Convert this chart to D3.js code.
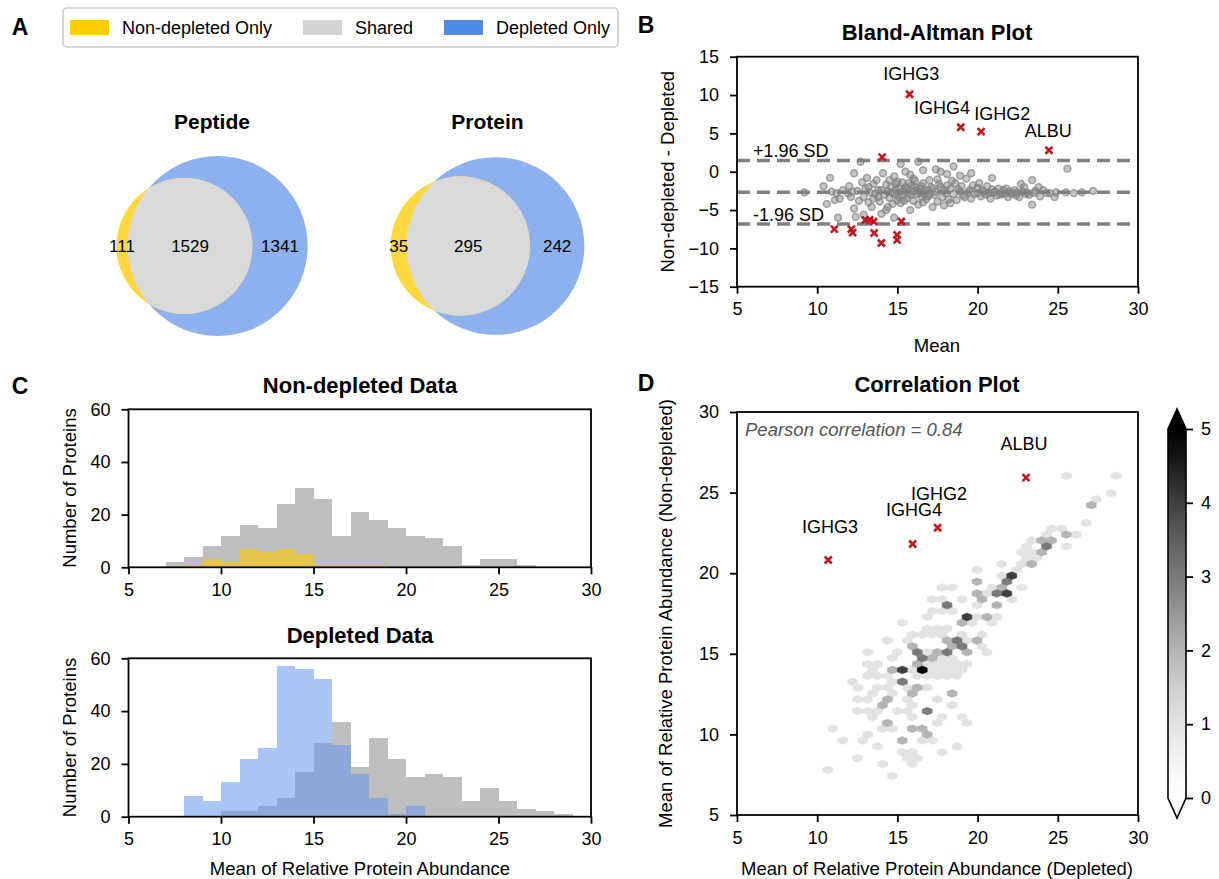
<!DOCTYPE html>
<html><head><meta charset="utf-8">
<script src="https://cdn.jsdelivr.net/npm/d3@7"></script>
<style>body{margin:0;background:#fff}</style>
</head><body><svg id="fig" width="1219" height="879"></svg>
<script>
// ================= DATA =================
const vennCategories = ["Non-depleted Only", "Shared", "Depleted Only"];
const vennTitles = ["Peptide", "Protein"];
const peptideCounts = [111, 1529, 1341];
const proteinCounts = [35, 295, 242];

// Bland-Altman
const baTicksX = [5, 10, 15, 20, 25, 30];
const baTicksY = [-15, -10, -5, 0, 5, 10, 15];
const baMeanDiff = -2.69;
const baSD = 2.11;
const baGray = [
[9.2,-2.7],[10.4,-1.9],[10.8,-0.8],[10.6,-4.2],[11.1,-3.7],[11.3,-6.0],[10.9,-2.6],[11.4,-3.5],[11.2,-2.8],[11.6,-2.4],
[11.9,-2.8],[12.0,-1.9],[12.1,-3.3],[12.3,-0.2],[12.3,-4.8],[12.4,-5.9],[12.5,-2.5],[12.6,-3.8],[12.7,1.3],[12.8,-1.4],
[12.9,-3.3],[12.9,-5.6],[13.0,-2.2],[13.1,-0.8],[13.2,-2.0],[13.3,-2.7],[13.4,-4.6],[13.5,-3.5],[13.5,-1.6],[13.6,-2.9],
[13.7,-1.1],[13.8,-2.4],[13.9,-3.9],[14.0,-5.5],[14.0,-2.4],[14.1,-0.2],[14.2,-3.0],[14.3,-5.0],[14.3,-1.7],[14.4,-2.6],
[14.5,-1.1],[14.5,-3.4],[14.6,-2.0],[14.7,-4.2],[14.8,-0.6],[14.8,-2.9],[14.8,-6.0],[14.9,-1.6],[15.0,-2.8],[15.0,-3.7],
[15.1,-2.2],[15.2,1.0],[15.2,-4.1],[15.3,-1.4],[15.3,-3.1],[15.4,-2.5],[15.5,0.0],[15.5,-2.0],[15.6,-2.2],[15.6,-3.5],
[15.7,-2.8],[15.8,-0.4],[15.8,-3.0],[15.8,-5.0],[15.9,-1.8],[16.0,-2.6],[16.0,-3.8],[16.1,-2.0],[16.1,-1.2],[16.2,-2.9],
[16.3,1.3],[16.3,-4.3],[16.4,-2.8],[16.4,-2.2],[16.5,-3.3],[16.6,0.2],[16.6,-1.5],[16.7,-2.5],[16.8,-3.6],[16.9,-2.4],
[17.0,-1.1],[17.0,-3.0],[17.1,-2.0],[17.2,-4.6],[17.3,-3.0],[17.4,0.3],[17.4,-2.6],[17.5,-3.9],[17.6,-1.6],[17.7,-2.0],
[17.7,0.0],[17.8,-3.3],[17.9,-2.4],[18.0,-2.8],[18.1,-0.3],[18.1,-1.8],[18.2,-3.6],[18.3,-2.2],[18.3,-4.1],[18.4,-1.2],
[18.5,0.7],[18.5,-2.9],[18.6,-1.5],[18.7,-3.7],[18.8,-2.3],[18.9,-2.6],[19.0,-1.9],[19.1,-3.1],[19.2,-3.3],[19.3,-0.9],
[19.4,-2.7],[19.5,-2.4],[19.6,-0.2],[19.6,-3.5],[19.7,-1.8],[19.8,-2.9],[20.0,-2.8],[20.0,-2.1],[20.1,-1.5],[20.2,-3.2],
[20.3,-2.4],[20.4,-2.6],[20.5,-3.0],[20.6,-1.9],[20.7,-2.8],[20.8,-3.5],[20.9,-0.8],[20.9,-2.3],[21.0,-2.7],[21.1,-2.6],
[21.2,-3.1],[21.3,-2.2],[21.4,-3.0],[21.5,-2.8],[21.6,-2.4],[21.7,-2.9],[21.8,-2.2],[21.9,-3.3],[22.0,-2.6],[22.1,-2.9],
[22.2,-2.8],[22.3,-2.4],[22.4,-3.1],[22.5,-2.7],[22.6,-3.3],[22.7,-1.6],[22.8,-2.6],[22.9,-2.0],[23.0,-2.9],[23.1,-2.7],
[23.2,-3.0],[23.4,-1.1],[23.4,-4.3],[23.5,-2.8],[23.6,-2.5],[23.8,-2.0],[23.9,-3.2],[24.1,-2.4],[24.3,-2.8],[24.5,-2.8],
[24.8,-3.3],[24.9,-2.7],[25.5,-2.7],[25.6,0.4],[26.0,-2.8],[26.5,-2.7],[27.2,-2.5],
[14.6,-2.7],[15.1,-3.3],[15.7,-1.5],[16.2,-2.4],[16.5,-1.9],[16.9,-3.2],[17.2,-2.2],[15.4,-3.8],[14.9,-2.3],[16.7,-2.9],
[13.8,-3.3],[12.2,-2.6],[15.0,-1.3],[16.0,-0.9],[17.5,-1.0],[18.9,-0.5],[13.2,-4.0],[14.4,-4.6],[16.6,-4.0],[17.9,-4.4]
];
const baRed = [
[15.76,10.1],[18.95,5.8],[20.22,5.22],[24.45,2.8],[14.05,1.9],
[11.07,-7.5],[12.13,-7.5],[12.21,-7.95],[13.0,-6.3],[13.27,-6.3],[13.52,-6.5],[13.55,-8.0],
[14.0,-9.3],[14.98,-8.25],[14.98,-8.9],[15.25,-6.5]
];
const baLabels = [["IGHG3",15.87,12.8],["IGHG4",17.78,8.27],["IGHG2",21.53,7.53],["ALBU",24.4,5.36]];

// Histograms (1-unit bins, value = left edge)
const histTicksX = [5, 10, 15, 20, 25, 30];
const histTicksY = [0, 20, 40, 60];
const nonDepSharedStart = [7,8,9,10,11,12,13,14,15,16,17,18,19,20,21,22,23,24,25,26];
const nonDepSharedCount = [2,4,8,12,16,15,24,30,26,12,21,18,15,12,11,8,1,3,3,1];
const nonDepOnlyStart = [8,9,10,11,12,13,14,15,16,17,18];
const nonDepOnlyCount = [1,3,2,7,6,7,5,1,1,1,1];
const depGrayStart = [10,11,12,13,14,15,16,17,18,19,20,21,22,23,24,25,26,27,28];
const depGrayCount = [2,2,4,7,17,28,36,19,30,22,15,16,15,6,11,6,3,2,1];
const depBlueStart = [8,9,10,11,12,13,14,15,16,17,18,19,20];
const depBlueCount = [8,6,13,22,26,57,56,52,27,16,7,1,4];

// Correlation hexbin cells: [depleted mean, non-depleted mean, count]
const corrTicks = [5, 10, 15, 20, 25, 30];
const cbarTicks = [0, 1, 2, 3, 4, 5];
const hexCells = [
[25.30,26.09,1],[28.46,26.09,1],[28.15,25.06,1],[27.22,24.64,1],[26.90,24.33,2],[26.55,23.26,1],
[25.66,22.27,2],[26.18,22.58,1],[24.97,22.89,1],[25.66,21.48,1],[24.62,22.58,1],[24.10,21.85,2],
[24.41,21.48,3],[24.10,21.13,2],[23.47,21.85,1],[23.68,21.23,1],[23.06,21.23,1],[23.16,20.72,2],
[22.75,20.72,1],[22.44,20.40,1],[22.85,20.40,1],[22.23,19.68,4],[21.81,19.37,3],[21.40,20.40,1],
[21.40,19.68,1],[22.85,18.96,1],[22.23,20.09,1],[21.81,18.65,4],[21.25,18.65,3],[21.81,19.06,2],
[22.33,18.34,1],[19.98,20.03,1],[19.98,19.33,2],[19.98,18.65,2],[20.67,18.96,1],[20.56,18.34,2],
[20.04,17.92,1],[21.29,17.92,2],[20.67,17.20,2],[21.19,17.51,1],[19.36,17.20,4],[19.00,16.79,2],
[18.07,17.92,3],[17.76,18.96,1],[18.38,18.96,1],[17.34,18.23,1],[19.00,18.34,1],[16.72,17.20,1],
[17.34,17.51,1],[17.86,17.51,1],[18.49,17.51,1],[18.07,16.48,1],[17.45,16.48,1],[16.82,16.48,1],
[16.20,16.06,1],[16.72,16.06,1],[17.34,16.06,1],[18.74,15.75,3],[19.01,15.44,3],[18.07,15.03,3],
[18.49,15.34,2],[19.42,15.75,1],[20.05,15.75,1],[20.67,15.03,1],[20.05,15.44,1],[19.42,15.03,2],
[16.20,15.03,3],[16.62,14.72,3],[15.99,14.40,2],[16.51,13.99,5],[15.37,13.99,4],[17.14,14.40,1],
[17.76,14.40,1],[16.93,14.72,2],[17.24,15.03,2],[17.76,14.72,1],[18.38,14.40,1],[19.00,14.40,1],
[19.63,14.40,1],[17.45,13.99,1],[18.07,13.99,1],[18.69,13.99,1],[19.32,13.99,1],[18.07,13.58,1],
[18.69,13.58,1],[15.37,13.27,3],[15.99,12.55,2],[16.51,12.86,1],[15.99,11.93,1],[18.38,12.55,2],
[18.38,11.93,1],[16.72,11.51,3],[15.99,10.38,2],[16.62,10.38,2],[16.93,10.07,2],[17.24,9.65,1],
[15.37,9.65,2],[19.00,11.10,1],[19.42,10.79,1],[18.70,9.34,1],[17.86,8.72,1],[15.99,8.41,1],
[15.37,8.72,1],[10.59,7.90,1],[10.90,10.38,1],[11.53,9.69,1],[12.15,13.21,1],[12.46,8.58,1],
[13.08,15.03,1],[12.77,9.65,1],[14.02,8.25,1],[14.64,7.59,1],[13.71,12.65,1],[14.33,12.13,2],
[14.33,10.79,2],[13.50,11.20,1],[13.08,11.51,1],[14.02,11.51,1],[14.75,13.99,2],[14.64,13.27,1],
[14.33,15.75,1],[13.71,13.58,1],[14.75,10.17,1],[12.46,11.62,1],[14.96,14.60,1],[15.27,16.89,1],
[14.95,15.03,1],[15.58,15.75,1],[16.51,16.10,1],[17.14,16.10,1],[17.76,16.10,1],[13.92,11.82,2],
[14.95,12.55,1],[13.71,12.90,1],[14.33,12.90,1],[16.20,12.90,2],[16.82,11.45,3],[15.79,11.10,1],
[15.89,10.38,2],[16.51,10.38,2],[15.58,8.62,1],[15.89,8.27,1],[12.46,12.24,1],[12.88,11.52,1],
[19.32,14.20,1],[17.76,13.69,1],[18.38,13.69,1],[19.00,13.69,1],[16.20,13.58,1],[17.45,14.66,1],
[18.07,14.66,1],[18.69,14.66,1],[18.17,15.75,2],[18.69,15.75,3],[19.32,15.75,1],[19.94,15.75,2],
[19.03,15.40,3],[16.82,15.03,1],[17.45,15.03,1],[19.03,16.85,2],[20.36,18.24,2],[14.33,13.58,1],
[16.55,14.66,3],[15.00,14.00,1],[15.93,14.00,1],
[27.22,24.75,1],[24.31,22.22,1],[24.72,21.85,2],[23.06,21.48,1],[22.85,20.82,1],[23.37,20.82,1],
[22.44,20.09,1],[21.50,20.40,1],[21.40,18.96,2],[20.56,18.96,1],[17.66,18.54,1],[15.99,16.27,1],
[16.62,16.27,1],[17.24,16.27,1],[17.86,16.27,1],[15.37,15.75,1],[15.99,15.44,2],[16.82,15.13,1],
[19.11,16.27,1],[19.84,16.78,1],[20.56,16.27,1],[21.08,16.89,1],[19.94,17.50,1],[18.90,16.90,2],
[13.10,13.60,1],[13.40,14.40,1],[14.00,14.40,1],[13.70,14.00,1],[12.80,12.90,1],[13.40,12.20,1],
[15.60,12.90,1],[15.60,12.20,1],[17.10,12.90,1],[17.40,12.20,1],[16.90,13.60,1],[15.00,11.50,1],
[15.60,11.50,1],[17.50,11.20,1],[17.20,10.80,1],[14.00,10.40,1],[13.40,10.00,1],[13.70,9.30,1],
[16.20,9.00,1],[16.50,9.70,1]
];
const corrRed = [[10.69,20.82],[15.95,21.81],[17.51,22.82],[23.02,25.93]];
const corrLabels = [["IGHG3",10.8,22.88],["IGHG4",16.03,23.92],["IGHG2",17.6,24.9],["ALBU",22.9,28.0]];
const pearsonText = "Pearson correlation = 0.84";

// ================= STYLE =================
const FF = '"Liberation Sans", Arial, Helvetica, sans-serif';
const RED = "#C4161C";
const svg = d3.select("#fig");
svg.append("rect").attr("width",1219).attr("height",879).attr("fill","#fff");

function txt(g, s, x, y, size, opts={}) {
  return g.append("text").attr("x",x).attr("y",y).text(s)
    .attr("font-family",FF).attr("font-size",size)
    .attr("font-weight",opts.bold?"bold":"normal")
    .attr("font-style",opts.italic?"italic":"normal")
    .attr("fill",opts.fill||"#000")
    .attr("text-anchor",opts.anchor||"middle")
    .attr("dominant-baseline","central")
    .attr("transform",opts.rotate?`rotate(-90,${x},${y})`:null);
}
function axes(g, x, y, xt, yt) {
  const [x0,x1] = x.range(), [y0,y1] = y.range();
  const ax = g.append("g").attr("transform",`translate(0,${y0})`)
    .call(d3.axisBottom(x).tickValues(xt).tickSize(7).tickPadding(9).tickSizeOuter(0));
  const ay = g.append("g").attr("transform",`translate(${x0},0)`)
    .call(d3.axisLeft(y).tickValues(yt).tickSize(7).tickPadding(11).tickSizeOuter(0));
  [ax,ay].forEach(a=>{
    a.select(".domain").remove();
    a.selectAll("line").attr("stroke","#000").attr("stroke-width",1.8);
    a.selectAll("text").attr("font-size",18).attr("fill","#000").attr("font-family",FF);
  });
  g.append("rect").attr("x",x0).attr("y",y1).attr("width",x1-x0).attr("height",y0-y1)
    .attr("fill","none").attr("stroke","#000").attr("stroke-width",1.8);
}
function xMark(g, px, py) {
  g.append("path").attr("transform",`translate(${px},${py})`)
    .attr("d","M-3.5,-3.5L3.5,3.5M-3.5,3.5L3.5,-3.5")
    .attr("stroke",RED).attr("stroke-width",2.6).attr("fill","none");
}

// ================= PANEL LETTERS =================
txt(svg,"A",20,27,23,{bold:true});
txt(svg,"B",646,25,23,{bold:true});
txt(svg,"C",20,386,23,{bold:true});
txt(svg,"D",646,383,23,{bold:true});

// ================= LEGEND =================
const legColors = ["#FFCC00","#D3D3D3","#4F89E2"];
const lg = svg.append("g");
lg.append("rect").attr("x",63).attr("y",8).attr("width",555).attr("height",39).attr("rx",4)
  .attr("fill","#fff").attr("stroke","#CCCCCC").attr("stroke-width",1.6);
const legX = [70,303,444];
vennCategories.forEach((c,i)=>{
  lg.append("rect").attr("x",legX[i]).attr("y",20).attr("width",39).attr("height",15).attr("fill",legColors[i]);
  txt(lg,c,legX[i]+52,27.5,18,{anchor:"start"});
});

// ================= VENN =================
function lens(rA,rB,d){
  if (d >= rA+rB) return 0;
  if (d <= Math.abs(rA-rB)) return Math.PI*Math.min(rA,rB)**2;
  const a = rA*rA*Math.acos((d*d+rA*rA-rB*rB)/(2*d*rA));
  const b = rB*rB*Math.acos((d*d+rB*rB-rA*rA)/(2*d*rB));
  const c = 0.5*Math.sqrt((-d+rA+rB)*(d+rA-rB)*(d-rA+rB)*(d+rA+rB));
  return a+b-c;
}
function drawVenn(counts, title, cx, cy, idx){
  const [a,ab,b] = counts, tot = a+ab+b, R0 = 91.7;
  const rA = R0*Math.sqrt((a+ab)/tot), rB = R0*Math.sqrt((ab+b)/tot);
  const target = ab/tot*Math.PI*R0*R0;
  let lo = Math.abs(rA-rB), hi = rA+rB;
  for (let k=0;k<60;k++){ const m=(lo+hi)/2; if (lens(rA,rB,m)>target) lo=m; else hi=m; }
  const d = (lo+hi)/2;
  const cxA = cx - (d + rB - rA)/2, cxB = cxA + d;
  const g = svg.append("g");
  const cid = "clipB"+idx;
  g.append("clipPath").attr("id",cid).append("circle").attr("cx",cxB).attr("cy",cy).attr("r",rB);
  g.append("circle").attr("cx",cxB).attr("cy",cy).attr("r",rB).attr("fill","#8DB1EE");
  g.append("circle").attr("cx",cxA).attr("cy",cy).attr("r",rA).attr("fill","#FFD83D");
  g.append("circle").attr("cx",cxA).attr("cy",cy).attr("r",rA).attr("fill","#D9D9D9").attr("clip-path",`url(#${cid})`);
  const xs = [((cxA-rA)+(cxB-rB))/2, ((cxB-rB)+(cxA+rA))/2, ((cxA+rA)+(cxB+rB))/2];
  counts.forEach((v,i)=>txt(g,String(v),xs[i],cy,17));
  txt(g,title,cx,121,21,{bold:true});
}
drawVenn(peptideCounts, vennTitles[0], 212, 246, 0);
drawVenn(proteinCounts, vennTitles[1], 487.5, 246, 1);

// ================= BLAND-ALTMAN =================
{
  const g = svg.append("g");
  const x = d3.scaleLinear().domain([5,30]).range([737,1138]);
  const y = d3.scaleLinear().domain([-15,15]).range([286.7,56.7]);
  const lines = [baMeanDiff+1.96*baSD, baMeanDiff, baMeanDiff-1.96*baSD];
  lines.forEach(v=>g.append("line").attr("x1",x(5)).attr("x2",x(30)).attr("y1",y(v)).attr("y2",y(v))
    .attr("stroke","#808080").attr("stroke-width",3.5).attr("stroke-dasharray","13,7"));
  g.selectAll("circle.pt").data(baGray).join("circle").attr("class","pt")
    .attr("cx",d=>x(d[0])).attr("cy",d=>y(d[1])).attr("r",3.4)
    .attr("fill","#808080").attr("fill-opacity",0.45)
    .attr("stroke","#808080").attr("stroke-opacity",0.7).attr("stroke-width",1.5);
  baRed.forEach(d=>xMark(g,x(d[0]),y(d[1])));
  baLabels.forEach(l=>txt(g,l[0],x(l[1]),y(l[2]),18));
  txt(g,"+1.96 SD",x(6.0),y(lines[0]+1.2),18,{anchor:"start"});
  txt(g,"-1.96 SD",x(6.0),y(lines[2]+1.2),18,{anchor:"start"});
  axes(g,x,y,baTicksX,baTicksY);
  txt(g,"Bland-Altman Plot",937,32,22,{bold:true});
  txt(g,"Mean",937,345,18.5);
  txt(g,"Non-depleted - Depleted",668,171.7,18.5,{rotate:true});
}

// ================= HISTOGRAMS =================
function hist(g, x, y, starts, counts, fill, opacity){
  g.selectAll(null).data(starts.map((s,i)=>[s,counts[i]]).filter(d=>d[1]>0)).join("rect")
    .attr("x",d=>x(d[0])).attr("width",d=>x(d[0]+1)-x(d[0]))
    .attr("y",d=>y(d[1])).attr("height",d=>y(0)-y(d[1]))
    .attr("fill",fill).attr("fill-opacity",opacity).attr("shape-rendering","crispEdges");
}
{
  const g = svg.append("g");
  const x = d3.scaleLinear().domain([5,30]).range([128.5,591]);
  const y = d3.scaleLinear().domain([0,60]).range([567.3,409.3]);
  hist(g,x,y,nonDepSharedStart,nonDepSharedCount,"#BEBEBE",1);
  hist(g,x,y,nonDepOnlyStart,nonDepOnlyCount,"#FFCC00",0.6);
  axes(g,x,y,histTicksX,histTicksY);
  txt(g,"Non-depleted Data",360,385,22,{bold:true});
  txt(g,"Number of Proteins",69,488,18.5,{rotate:true});
}
{
  const g = svg.append("g");
  const x = d3.scaleLinear().domain([5,30]).range([128.5,591]);
  const y = d3.scaleLinear().domain([0,60]).range([816.7,658.3]);
  hist(g,x,y,depGrayStart,depGrayCount,"#BEBEBE",1);
  hist(g,x,y,depBlueStart,depBlueCount,"#6495ED",0.55);
  axes(g,x,y,histTicksX,histTicksY);
  txt(g,"Depleted Data",360,635,22,{bold:true});
  txt(g,"Number of Proteins",69,737.5,18.5,{rotate:true});
  txt(g,"Mean of Relative Protein Abundance",360,868,18.5);
}

// ================= CORRELATION HEXBIN =================
{
  const g = svg.append("g");
  const x = d3.scaleLinear().domain([5,30]).range([737,1138]);
  const y = d3.scaleLinear().domain([5,30]).range([815,412]);
  const color = d3.scaleSequential(d3.interpolateGreys).domain([0,5]).clamp(true);
  // hex lattice (data units), binning like matplotlib hexbin
  const hx0 = 16.55, hy0 = 14.0, sx = 0.62, sy = 0.73;
  const cells = new Map();
  hexCells.forEach(([px,py,c])=>{
    const u = (px-hx0)/sx, v = (py-hy0)/sy;
    const i1 = Math.round(u), j1 = Math.round(v);
    const i2 = Math.floor(u), j2 = Math.floor(v);
    const d1 = (u-i1)**2 + 3*(v-j1)**2;
    const d2 = (u-i2-0.5)**2 + 3*(v-j2-0.5)**2;
    const cxd = d1<=d2 ? hx0+i1*sx : hx0+(i2+0.5)*sx;
    const cyd = d1<=d2 ? hy0+j1*sy : hy0+(j2+0.5)*sy;
    const key = cxd.toFixed(3)+","+cyd.toFixed(3);
    if (!cells.has(key) || cells.get(key)[2] < c) cells.set(key,[cxd,cyd,c]);
  });
  const hexPts = [[.5,-1/6],[.5,1/6],[0,1/3],[-.5,1/6],[-.5,-1/6],[0,-1/3]];
  g.selectAll("path.hex").data([...cells.values()].sort((a,b)=>a[2]-b[2])).join("path").attr("class","hex")
    .attr("d",d=>"M"+hexPts.map(p=>[x(d[0]+p[0]*sx),y(d[1]+p[1]*sy)].join(",")).join("L")+"Z")
    .attr("fill",d=>color(d[2])).attr("stroke",d=>color(d[2])).attr("stroke-width",0.5);
  corrRed.forEach(d=>xMark(g,x(d[0]),y(d[1])));
  corrLabels.forEach(l=>txt(g,l[0],x(l[1]),y(l[2]),18));
  txt(g,pearsonText,x(5.5),y(28.9),18.5,{anchor:"start",italic:true,fill:"#555"});
  axes(g,x,y,corrTicks,corrTicks);
  txt(g,"Correlation Plot",937,384,22,{bold:true});
  txt(g,"Mean of Relative Protein Abundance (Depleted)",937,868,18.5);
  txt(g,"Mean of Relative Protein Abundance  (Non-depleted)",665,613.5,18.5,{rotate:true});

  // colorbar
  const cb = svg.append("g");
  const cy = d3.scaleLinear().domain([0,5]).range([798,429]);
  const cx0 = 1168, cx1 = 1186, ext = 20;
  const grad = svg.append("defs").append("linearGradient").attr("id","cbGrad")
    .attr("x1",0).attr("y1",1).attr("x2",0).attr("y2",0);
  d3.range(0,1.0001,0.05).forEach(t=>grad.append("stop").attr("offset",t).attr("stop-color",d3.interpolateGreys(t)));
  cb.append("rect").attr("x",cx0).attr("y",cy(5)).attr("width",cx1-cx0).attr("height",cy(0)-cy(5)).attr("fill","url(#cbGrad)");
  cb.append("path").attr("d",`M${cx0},${cy(5)}L${(cx0+cx1)/2},${cy(5)-ext}L${cx1},${cy(5)}Z`).attr("fill","#000");
  cb.append("path").attr("d",`M${cx0},${cy(0)}L${(cx0+cx1)/2},${cy(0)+ext}L${cx1},${cy(0)}Z`).attr("fill","#fff");
  cb.append("path").attr("d",`M${cx0},${cy(5)}L${(cx0+cx1)/2},${cy(5)-ext}L${cx1},${cy(5)}L${cx1},${cy(0)}L${(cx0+cx1)/2},${cy(0)+ext}L${cx0},${cy(0)}Z`)
    .attr("fill","none").attr("stroke","#000").attr("stroke-width",1.6);
  const ca = cb.append("g").attr("transform",`translate(${cx1},0)`)
    .call(d3.axisRight(cy).tickValues(cbarTicks).tickFormat(d3.format("d")).tickSize(7).tickPadding(8).tickSizeOuter(0));
  ca.select(".domain").remove();
  ca.selectAll("line").attr("stroke","#000").attr("stroke-width",1.8);
  ca.selectAll("text").attr("font-size",18).attr("fill","#000").attr("font-family",FF);
}
</script></body></html>
